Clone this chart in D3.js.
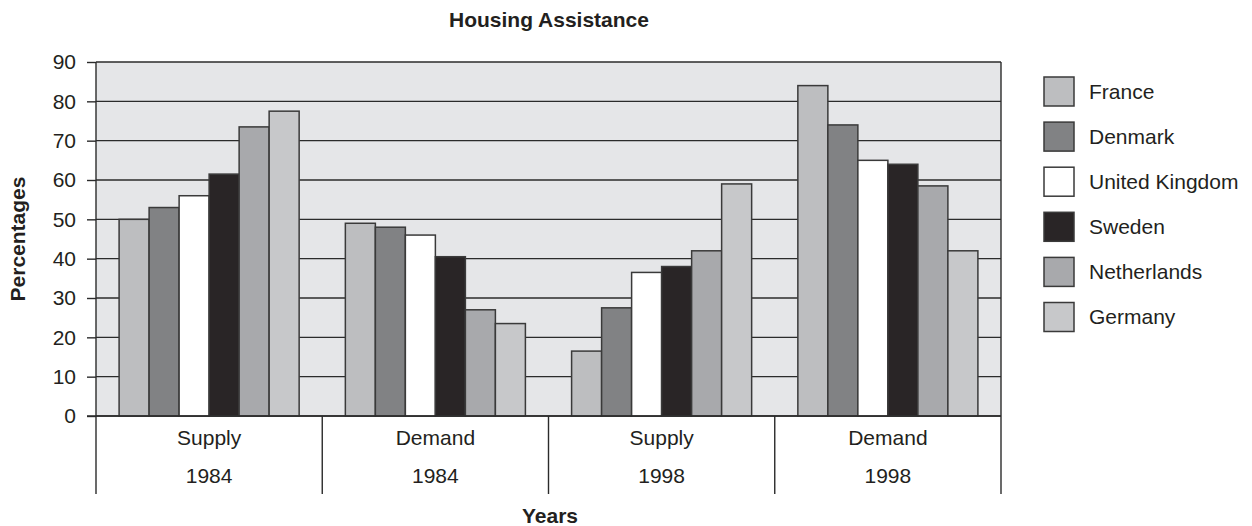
<!DOCTYPE html>
<html>
<head>
<meta charset="utf-8">
<script src="https://cdn.jsdelivr.net/npm/d3@7/dist/d3.min.js"></script>
<style>
  html, body { margin: 0; padding: 0; background: #ffffff; }
  svg text { font-family: "Liberation Sans", Arial, Helvetica, sans-serif; fill: #231f20; }
</style>
</head>
<body>
<svg id="chart" width="1252" height="526"></svg>
<script>
// Housing assistance: share of supply-side vs demand-side support, by country
const groupTypes = ["Supply", "Demand", "Supply", "Demand"];
const groupYears = ["1984", "1984", "1998", "1998"];
const countries = ["France", "Denmark", "United Kingdom", "Sweden", "Netherlands", "Germany"];

const supply1984 = [50, 53, 56, 61.5, 73.5, 77.5];
const demand1984 = [49, 48, 46, 40.5, 27, 23.5];
const supply1998 = [16.5, 27.5, 36.5, 38, 42, 59];
const demand1998 = [84, 74, 65, 64, 58.5, 42];

const yTicks = [0, 10, 20, 30, 40, 50, 60, 70, 80, 90];
const countryColors = ["#bdbec0", "#818284", "#ffffff", "#292526", "#a8a9ac", "#c7c8ca"];

const seriesByGroup = [supply1984, demand1984, supply1998, demand1998];
const groupKeys = groupTypes.map((t, i) => t + " " + groupYears[i]);

const svg = d3.select("#chart");
const ink = "#2b2b2b";
const plot = { left: 96, right: 1001, top: 62, bottom: 416 };

const x0 = d3.scaleBand().domain(groupKeys).range([plot.left, plot.right]).padding(0);
const x1 = d3.scaleBand().domain(countries).range([0, x0.bandwidth()])
  .paddingInner(0).paddingOuter(0.77);
const y = d3.scaleLinear().domain([0, 90]).range([plot.bottom, plot.top]);
const color = d3.scaleOrdinal().domain(countries).range(countryColors);

// plot background
svg.append("rect")
  .attr("x", plot.left).attr("y", plot.top)
  .attr("width", plot.right - plot.left).attr("height", plot.bottom - plot.top)
  .attr("fill", "#e5e6e8");

// horizontal gridlines
svg.append("g").selectAll("line").data(yTicks).join("line")
  .attr("x1", plot.left).attr("x2", plot.right)
  .attr("y1", d => y(d)).attr("y2", d => y(d))
  .attr("stroke", ink).attr("stroke-width", 1.4);

// y axis with outward ticks
const yAxis = svg.append("g")
  .attr("transform", `translate(${plot.left},0)`)
  .call(d3.axisLeft(y).tickValues(yTicks).tickSize(9).tickPadding(11).tickFormat(d3.format("d")));
yAxis.select(".domain").remove();
yAxis.selectAll(".tick line").attr("stroke", ink).attr("stroke-width", 1.4);
yAxis.selectAll(".tick text")
  .attr("font-size", 21).attr("fill", "#231f20")
  .style("font-family", '"Liberation Sans", Arial, Helvetica, sans-serif');

// bars
const groups = svg.append("g").selectAll("g").data(groupKeys).join("g")
  .attr("transform", d => `translate(${x0(d)},0)`);

groups.selectAll("rect")
  .data((d, gi) => countries.map((c, ci) => ({ country: c, value: seriesByGroup[gi][ci] })))
  .join("rect")
  .attr("x", d => x1(d.country))
  .attr("y", d => y(d.value))
  .attr("width", x1.bandwidth())
  .attr("height", d => y(0) - y(d.value))
  .attr("fill", d => color(d.country))
  .attr("stroke", "#3a3a3a")
  .attr("stroke-width", 1.5);

// baseline, extended left to form the zero tick
svg.append("line")
  .attr("x1", plot.left - 9).attr("x2", plot.right)
  .attr("y1", y(0)).attr("y2", y(0))
  .attr("stroke", ink).attr("stroke-width", 1.5);

// category dividers running down through the label area
const dividers = groupKeys.map(k => x0(k)).concat([plot.right]);
svg.append("g").selectAll("line").data(dividers).join("line")
  .attr("x1", d => d).attr("x2", d => d)
  .attr("y1", (d, i) => (i === 0 || i === dividers.length - 1) ? plot.top : plot.bottom)
  .attr("y2", 494)
  .attr("stroke", ink).attr("stroke-width", 1.4);

// two-line category labels
const labelG = svg.append("g").selectAll("g").data(groupKeys).join("g")
  .attr("transform", d => `translate(${x0(d) + x0.bandwidth() / 2},0)`);
labelG.append("text")
  .attr("y", 445).attr("text-anchor", "middle").attr("font-size", 21)
  .text((d, i) => groupTypes[i]);
labelG.append("text")
  .attr("y", 483).attr("text-anchor", "middle").attr("font-size", 21)
  .text((d, i) => groupYears[i]);

// titles
svg.append("text")
  .attr("x", 549).attr("y", 27).attr("text-anchor", "middle")
  .attr("font-size", 21).attr("font-weight", "bold")
  .text("Housing Assistance");

svg.append("text")
  .attr("x", 550).attr("y", 523).attr("text-anchor", "middle")
  .attr("font-size", 21).attr("font-weight", "bold")
  .text("Years");

svg.append("text")
  .attr("transform", `translate(25,${(plot.top + plot.bottom) / 2}) rotate(-90)`)
  .attr("text-anchor", "middle")
  .attr("font-size", 21).attr("font-weight", "bold")
  .text("Percentages");

// legend
const legend = svg.append("g").attr("transform", "translate(1044,77)");
const item = legend.selectAll("g").data(countries).join("g")
  .attr("transform", (d, i) => `translate(0,${i * 45.1})`);
item.append("rect")
  .attr("width", 30).attr("height", 29)
  .attr("fill", d => color(d))
  .attr("stroke", "#3a3a3a").attr("stroke-width", 1.5);
item.append("text")
  .attr("x", 45).attr("y", 21.5)
  .attr("font-size", 21)
  .text(d => d);
</script>
</body>
</html>
